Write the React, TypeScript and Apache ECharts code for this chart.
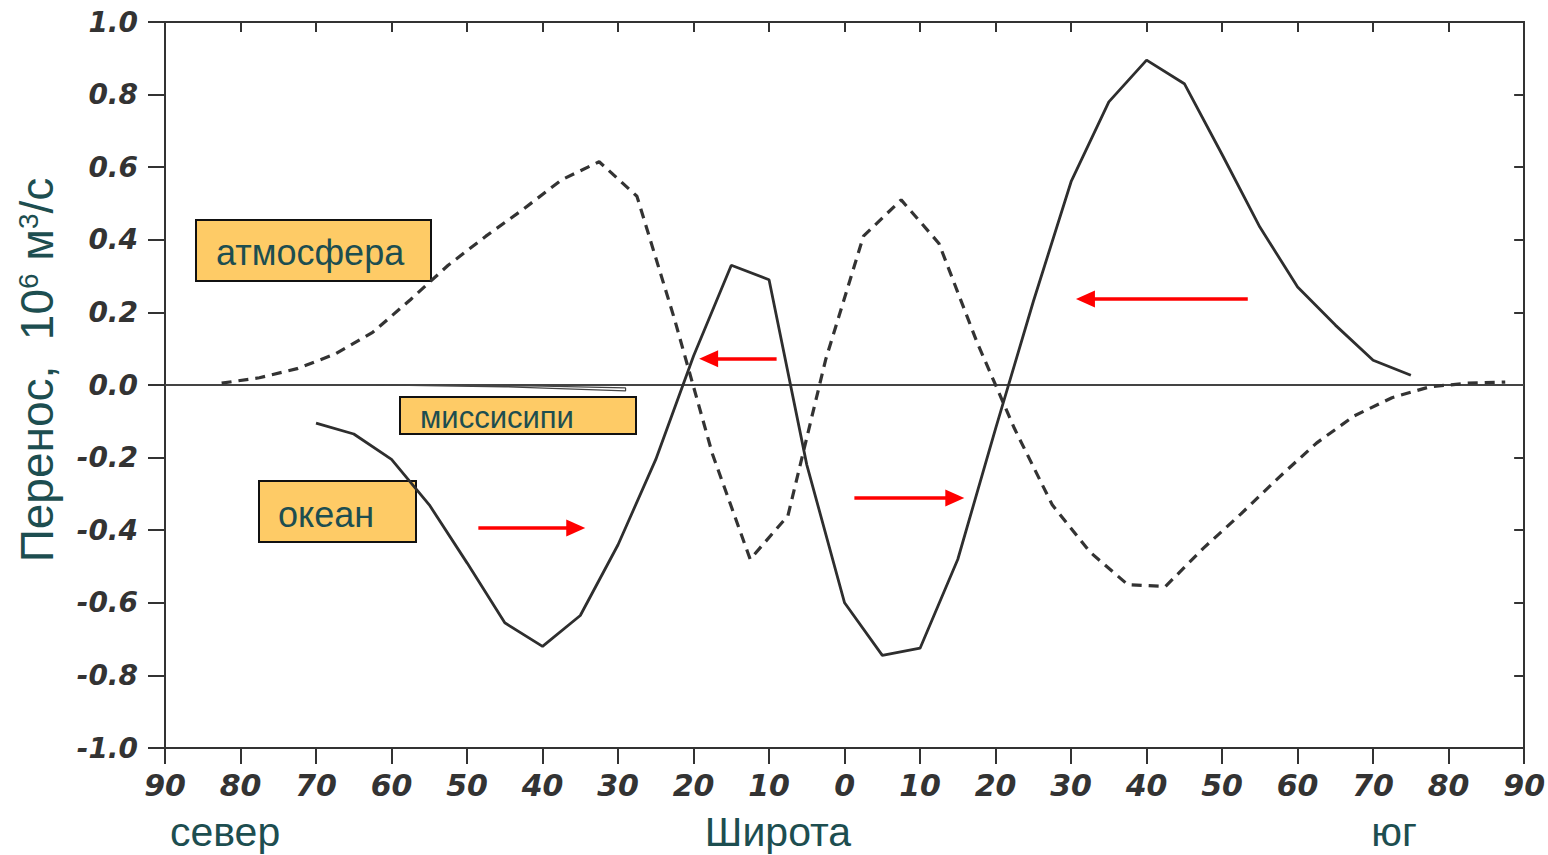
import React, { useEffect, useRef } from "react";
import * as echarts from "echarts";

// Latitude: negative = north (left), positive = south (right)
const oceanLat = [-70, -65, -60, -55, -50, -45, -40, -35, -30, -25, -20, -15, -10, -5, 0, 5, 10, 15, 20, 25, 30, 35, 40, 45, 50, 55, 60, 65, 70, 75];
const oceanValues = [-0.105, -0.135, -0.205, -0.33, -0.49, -0.655, -0.72, -0.635, -0.44, -0.205, 0.08, 0.33, 0.29, -0.22, -0.6, -0.745, -0.725, -0.48, -0.12, 0.23, 0.56, 0.78, 0.895, 0.83, 0.635, 0.435, 0.27, 0.165, 0.068, 0.027];

const atmLat = [-82.5, -77.5, -72.5, -67.5, -62.5, -57.5, -52.5, -47.5, -42.5, -37.5, -32.5, -27.5, -22.5, -17.5, -12.5, -7.5, -2.5, 2.5, 7.5, 12.5, 17.5, 22.5, 27.5, 32.5, 37.5, 42.5, 47.5, 52.5, 57.5, 62.5, 67.5, 72.5, 77.5, 82.5, 87.5];
const atmValues = [0.005, 0.02, 0.045, 0.085, 0.145, 0.235, 0.33, 0.41, 0.485, 0.565, 0.615, 0.52, 0.18, -0.19, -0.48, -0.36, 0.07, 0.41, 0.51, 0.39, 0.12, -0.12, -0.33, -0.46, -0.55, -0.555, -0.45, -0.355, -0.255, -0.16, -0.085, -0.035, -0.005, 0.005, 0.008];

const misLat = [-62, -45, -29, -29, -40, -55];
const misValues = [0, -0.005, -0.016, -0.008, -0.003, 0];

// Arrows: [fromLat, toLat, value]
const arrows = [
  [-9, -18.0, 0.072],
  [-48.5, -35.6, -0.394],
  [1.3, 14.6, -0.311],
  [53.4, 31.9, 0.237],
];

const xTicks = { min: -90, max: 90, interval: 10 };
const yTicks = { min: -1, max: 1, interval: 0.2 };

const TEAL = "#1d4e50";
const INK = "#333";

export default function App() {
  const ref = useRef<HTMLDivElement>(null);
  useEffect(() => {
    const chart = echarts.init(ref.current!, null, { renderer: "svg" });
    const labelFont = {
      fontFamily: "DejaVu Sans",
      fontStyle: "italic",
      fontWeight: "bold",
      color: INK,
    };
    const axisLine = { show: true, onZero: false, lineStyle: { color: INK, width: 2 } };
    const option: any = {
      animation: false,
      backgroundColor: "#fff",
      grid: { left: 165, right: 21, top: 22, bottom: 107 },
      xAxis: [
        {
          type: "value",
          ...xTicks,
          position: "bottom",
          axisLine,
          axisTick: { length: 16, lineStyle: { color: INK, width: 2 } },
          axisLabel: { ...labelFont, fontSize: 30, margin: 22, formatter: (v: number) => String(Math.abs(v)) },
          splitLine: { show: false },
        },
        {
          type: "value",
          ...xTicks,
          position: "top",
          axisLine,
          axisTick: { inside: true, length: 10, lineStyle: { color: INK, width: 2 } },
          axisLabel: { show: false },
          splitLine: { show: false },
        },
      ],
      yAxis: [
        {
          type: "value",
          ...yTicks,
          position: "left",
          axisLine,
          axisTick: { show: true, length: 17, lineStyle: { color: INK, width: 2 } },
          axisLabel: { ...labelFont, fontSize: 28, margin: 27, formatter: (v: number) => v.toFixed(1) },
          splitLine: { show: false },
        },
        {
          type: "value",
          ...yTicks,
          position: "right",
          axisLine,
          axisTick: { show: true, inside: true, length: 10, lineStyle: { color: INK, width: 2 } },
          axisLabel: { show: false },
          splitLine: { show: false },
        },
      ],
      series: [
        {
          name: "zero",
          type: "line",
          data: [[-90, 0], [90, 0]],
          symbol: "none",
          lineStyle: { color: "#444", width: 1.8 },
          z: 1,
          markLine: {
            silent: true,
            symbol: ["none", "triangle"],
            symbolSize: [17, 19],
            label: { show: false },
            lineStyle: { color: "#ff0000", width: 3.5, type: "solid" },
            data: arrows.map((a) => [
              { coord: [a[0], a[2]] },
              { coord: [a[1], a[2]] },
            ]),
          },
        },
        {
          name: "миссисипи",
          type: "line",
          data: misLat.map((x, i) => [x, misValues[i]]),
          symbol: "none",
          lineStyle: { color: "#444", width: 1.2 },
        },
        {
          name: "атмосфера",
          type: "line",
          data: atmLat.map((x, i) => [x, atmValues[i]]),
          symbol: "none",
          lineStyle: { color: "#333", width: 3.2, type: [10, 7] },
        },
        {
          name: "океан",
          type: "line",
          data: oceanLat.map((x, i) => [x, oceanValues[i]]),
          symbol: "none",
          lineStyle: { color: "#2e2e2e", width: 2.8 },
        },
      ],
      graphic: [
        {
          type: "text",
          x: 37,
          y: 370,
          rotation: Math.PI / 2,
          style: {
            text: "{a|Перенос,  10}{s|6}{a| м}{s|3}{a|/с}",
            align: "center",
            verticalAlign: "middle",
            rich: {
              a: { fontFamily: "Liberation Sans", fontSize: 46, fill: TEAL },
              s: { fontFamily: "Liberation Sans", fontSize: 28, fill: TEAL, verticalAlign: "top" },
            },
          },
        },
        { type: "text", x: 170, y: 832, style: { text: "север", fontFamily: "Liberation Sans", fontSize: 41, fill: TEAL, verticalAlign: "middle" } },
        { type: "text", x: 778, y: 832, style: { text: "Широта", fontFamily: "Liberation Sans", fontSize: 41, fill: TEAL, align: "center", verticalAlign: "middle" } },
        { type: "text", x: 1394, y: 832, style: { text: "юг", fontFamily: "Liberation Sans", fontSize: 41, fill: TEAL, align: "center", verticalAlign: "middle" } },
        {
          type: "group",
          children: [
            { type: "rect", shape: { x: 196, y: 220, width: 235, height: 61 }, style: { fill: "#FECB66", stroke: "#111", lineWidth: 2 } },
            { type: "text", x: 216, y: 252, style: { text: "атмосфера", fontFamily: "Liberation Sans", fontSize: 36, fill: TEAL, verticalAlign: "middle" } },
            { type: "rect", shape: { x: 400, y: 397, width: 236, height: 37 }, style: { fill: "#FECB66", stroke: "#111", lineWidth: 2 } },
            { type: "text", x: 420, y: 417, style: { text: "миссисипи", fontFamily: "Liberation Sans", fontSize: 31, fill: TEAL, verticalAlign: "middle" } },
            { type: "rect", shape: { x: 259, y: 481, width: 157, height: 61 }, style: { fill: "#FECB66", stroke: "#111", lineWidth: 2 } },
            { type: "text", x: 278, y: 514, style: { text: "океан", fontFamily: "Liberation Sans", fontSize: 36, fill: TEAL, verticalAlign: "middle" } },
          ],
        },
      ],
    };
    chart.setOption(option);
    return () => chart.dispose();
  }, []);
  return <div ref={ref} style={{ position: "absolute", left: 0, top: 0, width: 1548, height: 855 }} />;
}
